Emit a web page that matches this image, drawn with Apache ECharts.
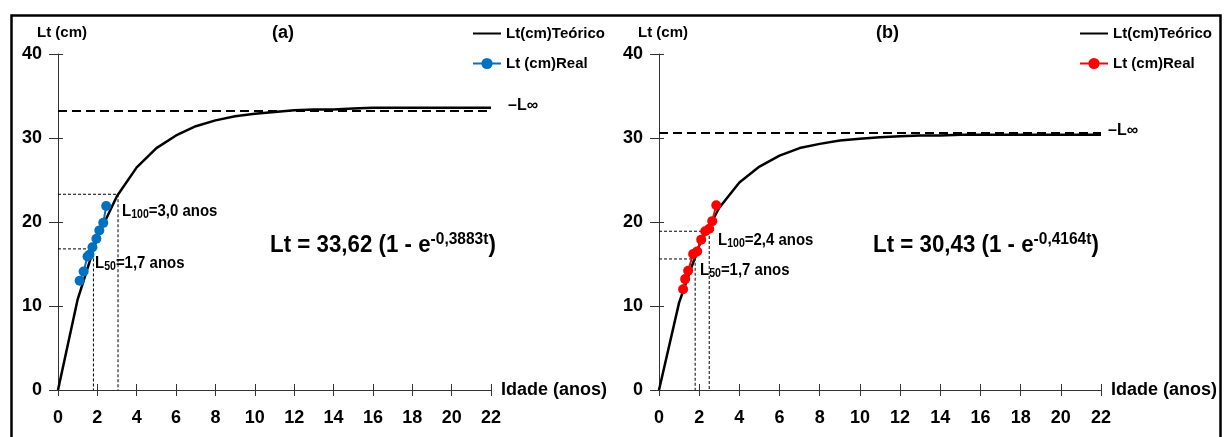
<!DOCTYPE html>
<html><head><meta charset="utf-8">
<script src="https://cdn.jsdelivr.net/npm/echarts@6/dist/echarts.min.js"></script>
<style>html,body{margin:0;padding:0;background:#fff}#c{width:1226px;height:437px}</style>
</head><body><div id="c"></div>
<script>
// ---- data ----
const ages = [0,1,2,3,4,5,6,7,8,9,10,11,12,13,14,15,16,17,18,19,20,21,22];
const ltTeoricoA = [0,10.8,18.2,23.1,26.5,28.8,30.3,31.4,32.1,32.6,32.9,33.1,33.3,33.4,33.4,33.5,33.6,33.6,33.6,33.6,33.6,33.6,33.6];
const ltTeoricoB = [0,10.4,17.2,21.7,24.7,26.6,27.9,28.8,29.3,29.7,29.9,30.1,30.2,30.3,30.3,30.4,30.4,30.4,30.4,30.4,30.4,30.4,30.4];
const realAgeA = [1.1,1.3,1.5,1.6,1.75,1.95,2.1,2.3,2.45];
const realLtA  = [13.0,14.1,15.9,16.1,17.0,18.0,19.0,19.9,21.9];
const realAgeB = [1.2,1.3,1.45,1.7,1.9,2.1,2.3,2.5,2.65,2.85];
const realLtB  = [12.0,13.2,14.2,16.2,16.5,17.9,18.9,19.2,20.1,22.0];
const linfA = 33.2, linfB = 30.6;
const linfEndA = 22.5, linfEndB = 22;
const l50A = [1.8,16.8], l100A = [3.05,23.3];
const l50B = [1.8,15.6], l100B = [2.5,18.9];
const xMin = 0, xMax = 22, xStep = 2;
const yMin = 0, yMax = 40, yStep = 10;
const legendNames = ['Lt(cm)Teórico','Lt (cm)Real'];

const F = '"Liberation Sans", Arial, sans-serif';
const BLUE = '#0070C0', RED = '#FF0000';

const chart = echarts.init(document.getElementById('c'), null, {renderer:'canvas'});

function xAxes(g){
  return [{
    gridIndex:g, type:'value', min:xMin, max:xMax, interval:xStep, position:'bottom',
    axisLine:{lineStyle:{color:'#333',width:1}},
    axisTick:{length:6,lineStyle:{color:'#333'}},
    axisLabel:{margin:19,fontSize:18,fontWeight:'bold',color:'#000',fontFamily:F},
    splitLine:{show:false},
    name:'Idade (anos)', nameLocation:'end', nameGap:10,
    nameTextStyle:{fontSize:18,fontWeight:'bold',color:'#000',fontFamily:F,align:'left',verticalAlign:'middle'}
  },{
    gridIndex:g, type:'value', min:xMin, max:xMax, interval:xStep, position:'bottom',
    axisLine:{show:false}, axisTick:{inside:true,length:6,lineStyle:{color:'#333'}},
    axisLabel:{show:false}, splitLine:{show:false}
  }];
}
function yAxes(g){
  return [{
    gridIndex:g, type:'value', min:yMin, max:yMax, interval:yStep, position:'left',
    axisLine:{show:true,lineStyle:{color:'#333',width:1}},
    axisTick:{show:true,length:9,lineStyle:{color:'#333'}},
    axisLabel:{margin:16,fontSize:18,fontWeight:'bold',color:'#000',fontFamily:F},
    splitLine:{show:false},
    name:'Lt (cm)', nameLocation:'end', nameGap:14,
    nameTextStyle:{fontSize:15,fontWeight:'bold',color:'#000',fontFamily:F,padding:[0,0,0,8]}
  },{
    gridIndex:g, type:'value', min:yMin, max:yMax, interval:yStep, position:'left',
    axisLine:{show:false}, axisTick:{show:true,inside:true,length:5,lineStyle:{color:'#333'}},
    axisLabel:{show:false}, splitLine:{show:false}
  }];
}

function panelSeries(xi, yi, teo, realT, realL, color, linf, linfEnd, lblDist, lblDy, l50, l100){
  return [
    {type:'line', name:legendNames[0], xAxisIndex:xi, yAxisIndex:yi, symbol:'none', z:4,
     data: ages.map((t,i)=>[t, teo[i]]), lineStyle:{color:'#000',width:2.5}, itemStyle:{color:'#000'}},
    {type:'line', name:'linf'+xi, xAxisIndex:xi, yAxisIndex:yi, symbol:'none', clip:false, z:3,
     data:[[xMin,linf],[linfEnd,linf]], lineStyle:{color:'#000',width:2,type:[9,5]},
     endLabel:{show:true, formatter:'–L∞', distance:lblDist, offset:[0,lblDy], fontSize:16, fontWeight:'bold', color:'#000', fontFamily:F}},
    {type:'line', name:'l50'+xi, xAxisIndex:xi, yAxisIndex:yi, symbol:'none', z:2,
     data:[[xMin,l50[1]],[l50[0],l50[1]],[l50[0],yMin]], lineStyle:{color:'#000',width:1,type:[3,2]}},
    {type:'line', name:'l100'+xi, xAxisIndex:xi, yAxisIndex:yi, symbol:'none', z:2,
     data:[[xMin,l100[1]],[l100[0],l100[1]],[l100[0],yMin]], lineStyle:{color:'#000',width:1,type:[3,2]}},
    {type:'line', name:legendNames[1], xAxisIndex:xi, yAxisIndex:yi, symbol:'circle', symbolSize:10, z:5,
     data: realT.map((t,i)=>[t, realL[i]]), lineStyle:{color:color,width:2}, itemStyle:{color:color}}
  ];
}

function legend(left, color){
  return {
    left:left, top:26, padding:0, orient:'vertical', itemWidth:28, itemHeight:14, itemGap:15, selectedMode:false,
    textStyle:{fontSize:15,fontWeight:'bold',color:'#000',fontFamily:F},
    data:[{name:legendNames[0], itemStyle:{color:'#000',opacity:0}, lineStyle:{color:'#000',width:2}},
          {name:legendNames[1], itemStyle:{color:color}, lineStyle:{color:color,width:2}}]
  };
}

function sub(prefix, s, rest, left, top){
  return {type:'text', left:left, top:top, z:10, scaleX:0.88, style:{
    text:'{a|'+prefix+'}{b|'+s+'}{a|'+rest+'}',
    rich:{a:{fontSize:17,fontWeight:'bold',fill:'#000',fontFamily:F,lineHeight:20},
          b:{fontSize:12,fontWeight:'bold',fill:'#000',fontFamily:F,lineHeight:20,verticalAlign:'bottom',padding:[7,0,0,0]}}
  }};
}
function eq(text, supText, left, top){
  return {type:'text', left:left, top:top, z:10, scaleX:0.97, style:{
    text:'{m|'+text+'}{s|'+supText+'}{m|)}',
    rich:{m:{fontSize:23,fontWeight:'bold',fill:'#000',fontFamily:F,lineHeight:28},
          s:{fontSize:16,fontWeight:'bold',fill:'#000',fontFamily:F,lineHeight:28,verticalAlign:'top',padding:[0,0,12,0]}}
  }};
}

const option = {
  animation:false,
  backgroundColor:'#fff',
  grid:[
    {left:58, top:54, width:433, height:336},
    {left:659, top:54, width:442, height:336}
  ],
  xAxis:[...xAxes(0), ...xAxes(1)],
  yAxis:[...yAxes(0), ...yAxes(1)],
  legend:[legend(472, BLUE), legend(1079, RED)],
  series:[
    ...panelSeries(0, 0, ltTeoricoA, realAgeA, realLtA, BLUE, linfA, linfEndA, 16, -6, l50A, l100A),
    ...panelSeries(2, 2, ltTeoricoB, realAgeB, realLtB, RED, linfB, linfEndB, 7, -2, l50B, l100B)
  ],
  graphic:[
    {type:'rect', left:9, top:13, z:0, shape:{width:1209, height:440}, style:{fill:'none', stroke:'#000', lineWidth:2.5}},
    {type:'text', left:272, top:24, style:{text:'(a)', fontSize:18, fontWeight:'bold', fill:'#000', fontFamily:F}},
    {type:'text', left:876, top:24, style:{text:'(b)', fontSize:18, fontWeight:'bold', fill:'#000', fontFamily:F}},
    sub('L','100','=3,0 anos', 122, 202),
    sub('L','50','=1,7 anos', 95, 254),
    sub('L','100','=2,4 anos', 718, 231),
    sub('L','50','=1,7 anos', 700, 261),
    eq('Lt = 33,62 (1 - e','-0,3883t', 270, 232),
    eq('Lt = 30,43 (1 - e','-0,4164t', 873, 232)
  ]
};
chart.setOption(option);
</script></body></html>
